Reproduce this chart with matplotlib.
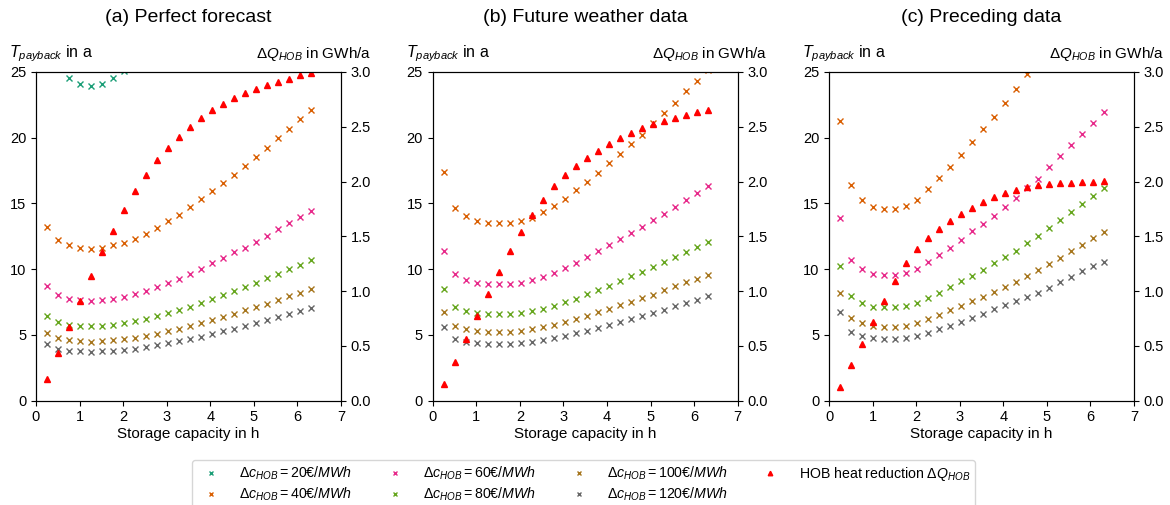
import numpy as np
import matplotlib
matplotlib.use("Agg")
import matplotlib.pyplot as plt

plt.rcParams['font.family'] = ['Liberation Sans', 'DejaVu Sans']
plt.rcParams['mathtext.fontset'] = 'custom'
plt.rcParams['mathtext.rm'] = 'Liberation Sans'
plt.rcParams['mathtext.it'] = 'Liberation Sans:italic'
plt.rcParams['mathtext.bf'] = 'Liberation Sans:bold'

nan = np.nan

storage_h = [0.253, 0.505, 0.758, 1.011, 1.264, 1.516, 1.769, 2.022, 2.274, 2.527,
             2.780, 3.033, 3.285, 3.538, 3.791, 4.043, 4.296, 4.549, 4.802, 5.054,
             5.307, 5.560, 5.813, 6.065, 6.318]

price_labels = [20, 40, 60, 80, 100, 120]
price_colors = ['#1b9e77', '#d95f02', '#e7298a', '#66a61e', '#a6761d', '#666666']

titles = ['(a) Perfect forecast', '(b) Future weather data', '(c) Preceding data']

# ---- (a) Perfect forecast ----
a_20 = [nan, nan, 24.57, 24.09, 23.96, 24.09, 24.57, 25.05] + [nan] * 17
a_40 = [13.24, 12.22, 11.82, 11.59, 11.54, 11.59, 11.82, 12.02, 12.32, 12.70,
        13.13, 13.64, 14.15, 14.73, 15.31, 15.92, 16.56, 17.17, 17.82, 18.51,
        19.24, 19.98, 20.69, 21.42, 22.13]
a_60 = [8.70, 8.04, 7.76, 7.66, 7.61, 7.66, 7.76, 7.89, 8.09, 8.37,
        8.67, 8.98, 9.28, 9.66, 10.02, 10.45, 10.85, 11.28, 11.64, 12.07,
        12.55, 13.03, 13.49, 13.95, 14.40]
a_80 = [6.47, 5.98, 5.78, 5.68, 5.65, 5.68, 5.78, 5.88, 6.03, 6.24,
        6.44, 6.67, 6.92, 7.15, 7.43, 7.73, 8.04, 8.32, 8.65, 8.98,
        9.31, 9.66, 9.99, 10.32, 10.67]
a_100 = [5.15, 4.77, 4.59, 4.51, 4.49, 4.51, 4.59, 4.67, 4.79, 4.94,
         5.10, 5.27, 5.48, 5.70, 5.93, 6.16, 6.39, 6.62, 6.90, 7.12,
         7.38, 7.68, 7.96, 8.22, 8.47]
a_120 = [4.28, 3.93, 3.80, 3.75, 3.73, 3.75, 3.80, 3.88, 3.96, 4.08,
         4.21, 4.39, 4.51, 4.69, 4.87, 5.07, 5.27, 5.48, 5.70, 5.93,
         6.14, 6.36, 6.59, 6.85, 7.02]
a_dq = [0.198, 0.432, 0.669, 0.910, 1.138, 1.357, 1.552, 1.740, 1.914, 2.060,
        2.197, 2.306, 2.409, 2.498, 2.577, 2.653, 2.705, 2.759, 2.811, 2.848,
        2.881, 2.908, 2.936, 2.969, 2.994]

# ---- (b) Future weather data ----
b_20 = [nan] * 25
b_40 = [17.42, 14.68, 14.02, 13.64, 13.49, 13.49, 13.49, 13.67, 13.87, 14.33,
        14.81, 15.36, 16.00, 16.63, 17.34, 18.05, 18.76, 19.52, 20.23, 21.10,
        21.86, 22.67, 23.53, 24.34, 25.15]
b_60 = [11.41, 9.63, 9.20, 8.95, 8.85, 8.85, 8.85, 8.98, 9.15, 9.41,
        9.74, 10.09, 10.50, 10.90, 11.36, 11.82, 12.27, 12.75, 13.24, 13.72,
        14.22, 14.76, 15.29, 15.82, 16.33]
b_80 = [8.47, 7.15, 6.85, 6.64, 6.59, 6.59, 6.59, 6.67, 6.80, 7.00,
        7.23, 7.48, 7.76, 8.09, 8.42, 8.75, 9.10, 9.46, 9.81, 10.17,
        10.55, 10.93, 11.31, 11.69, 12.07]
b_100 = [6.72, 5.70, 5.45, 5.30, 5.25, 5.25, 5.25, 5.32, 5.43, 5.58,
         5.76, 5.98, 6.21, 6.47, 6.72, 7.00, 7.25, 7.53, 7.81, 8.06,
         8.39, 8.70, 9.00, 9.28, 9.58]
b_120 = [5.60, 4.72, 4.46, 4.39, 4.34, 4.34, 4.34, 4.39, 4.49, 4.61,
         4.77, 4.94, 5.15, 5.32, 5.55, 5.76, 5.98, 6.21, 6.44, 6.69,
         6.92, 7.18, 7.43, 7.68, 7.96]
b_dq = [0.152, 0.356, 0.560, 0.773, 0.974, 1.174, 1.366, 1.542, 1.697, 1.834,
        1.959, 2.057, 2.142, 2.218, 2.282, 2.343, 2.394, 2.443, 2.486, 2.525,
        2.552, 2.577, 2.604, 2.632, 2.656]

# ---- (c) Preceding data ----
c_20 = [nan] * 25
c_40 = [21.30, 16.38, 15.29, 14.71, 14.58, 14.58, 14.78, 15.29, 16.08, 16.91,
        17.80, 18.71, 19.68, 20.64, 21.60, 22.67, 23.71, 24.85] + [nan] * 7
c_60 = [13.87, 10.70, 10.02, 9.63, 9.53, 9.53, 9.69, 10.02, 10.55, 11.05,
        11.59, 12.25, 12.91, 13.44, 14.07, 14.73, 15.42, 16.15, 16.89, 17.75,
        18.58, 19.45, 20.31, 21.15, 21.96]
c_80 = [10.27, 7.96, 7.43, 7.15, 7.10, 7.10, 7.20, 7.43, 7.81, 8.19,
        8.65, 9.10, 9.51, 9.94, 10.45, 10.93, 11.41, 11.97, 12.50, 13.11,
        13.72, 14.35, 14.98, 15.59, 16.20]
c_100 = [8.16, 6.31, 5.93, 5.68, 5.63, 5.63, 5.70, 5.93, 6.24, 6.52,
         6.87, 7.23, 7.58, 7.91, 8.29, 8.65, 9.05, 9.48, 9.94, 10.40,
         10.88, 11.36, 11.87, 12.35, 12.80]
c_120 = [6.77, 5.25, 4.92, 4.77, 4.72, 4.72, 4.77, 4.92, 5.17, 5.43,
         5.70, 5.98, 6.31, 6.62, 6.95, 7.25, 7.58, 7.86, 8.22, 8.60,
         9.03, 9.43, 9.84, 10.22, 10.57]
c_dq = [0.128, 0.329, 0.520, 0.721, 0.913, 1.092, 1.260, 1.384, 1.485, 1.570,
        1.643, 1.704, 1.761, 1.813, 1.862, 1.898, 1.926, 1.950, 1.968, 1.977,
        1.984, 1.990, 1.993, 1.996, 2.005]

panels = [
    ([a_20, a_40, a_60, a_80, a_100, a_120], a_dq),
    ([b_20, b_40, b_60, b_80, b_100, b_120], b_dq),
    ([c_20, c_40, c_60, c_80, c_100, c_120], c_dq),
]

fig = plt.figure(figsize=(11.7, 5.05), dpi=100)
lefts = [36 / 1170, 432.7 / 1170, 829 / 1170]
w = 305 / 1170
b = (505 - 400.7) / 505
h = 328.7 / 505

handles = []
for i, (series, dq) in enumerate(panels):
    ax = fig.add_axes([lefts[i], b, w, h])
    ax2 = ax.twinx()
    for s, lab, col in zip(series, price_labels, price_colors):
        ln, = ax.plot(storage_h, s, linestyle='none', marker='x', markersize=4.2,
                      markeredgewidth=1.0, color=col,
                      label=r'$\Delta c_{HOB} = %d€/MWh$' % lab)
        if i == 0:
            handles.append(ln)
    lr, = ax2.plot(storage_h, dq, linestyle='none', marker='^', markersize=5,
                   color='red', label=r'HOB heat reduction $\Delta Q_{HOB}$')
    if i == 0:
        handles.append(lr)
    ax.set_xlim(0, 7)
    ax.set_ylim(0, 25)
    ax2.set_ylim(0, 3.0)
    ax.set_xticks(range(0, 8))
    ax.set_yticks([0, 5, 10, 15, 20, 25])
    ax2.set_yticks([0.0, 0.5, 1.0, 1.5, 2.0, 2.5, 3.0])
    ax.tick_params(labelsize=10.5)
    ax2.tick_params(labelsize=10.5)
    ax.set_xlabel('Storage capacity in h', fontsize=11, labelpad=2)
    ax.set_title(titles[i], fontsize=14, pad=36)
    ax.text(-0.089, 1.055, r'$T_{payback}$ in a', transform=ax.transAxes,
            ha='left', va='center', fontsize=11.5)
    ax2.text(1.098, 1.055, r'$\Delta Q_{HOB}$ in GWh/a', transform=ax.transAxes,
             ha='right', va='center', fontsize=11)

fig.legend(handles=handles,
           labels=[hd.get_label() for hd in handles],
           loc='upper center', bbox_to_anchor=(0.4987, 0.089), ncol=4,
           fontsize=10.2, markerscale=0.65, frameon=True, borderaxespad=0,
           labelspacing=0.25, borderpad=0.35, handletextpad=1.0)

fig.savefig('out.png', dpi=100)
